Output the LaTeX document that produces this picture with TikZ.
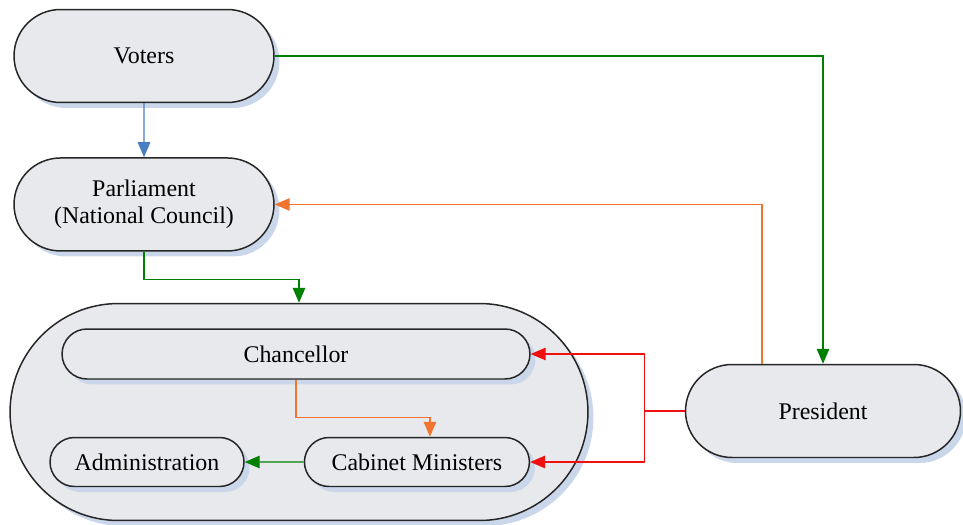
\documentclass[tikz,border=0pt]{standalone}
\usepackage{fontspec}
\setmainfont{Liberation Serif}
\usetikzlibrary{positioning}
\usetikzlibrary{calc}
\usetikzlibrary{arrows.meta}
\usetikzlibrary{shapes.misc}
\usetikzlibrary{shadows}
\definecolor{boxfill}{HTML}{E8E9EC}
\definecolor{shadowblue}{HTML}{CAD6EA}
\definecolor{cblue}{HTML}{4A7EC4}
\definecolor{cgreen}{HTML}{008000}
\definecolor{corange}{HTML}{F27431}
\definecolor{cred}{HTML}{F01010}
\tikzset{
b/.style={
  rounded rectangle,
  inner sep=0pt,
  align=center,
  draw=black!85,
  line width=0.85pt,
  fill=boxfill,
  font=\fontsize{13.6}{15.5}\selectfont,
  drop shadow={shadow xshift=0.11cm,shadow yshift=-0.11cm,fill=shadowblue,opacity=1}
  }
}
\begin{document}
\begin{tikzpicture}[x=0.02cm,y=-0.02cm,>={Triangle[length=0.3cm,width=0.25cm]},line width=0.8pt]
            \useasboundingbox (0,0) rectangle (963,524);
            \node[b,minimum width=5.2cm,minimum height=1.86cm]   (voters) at (144,56) {Voters};
            \node[b,minimum width=5.2cm,minimum height=1.86cm]   (parl)   [below=1.08cm of voters] {Parliament\\(National Council)};
            \node[b,minimum width=11.56cm,minimum height=4.34cm] (gov)    at (299,412) {};
            \node[b,minimum width=9.36cm,minimum height=1cm]     (chan)   at (296,354) {Chancellor};
            \node[b,minimum width=3.88cm,minimum height=0.98cm]  (admin)  at (147,462) {Administration};
            \node[b,minimum width=4.5cm,minimum height=0.98cm]   (cab)    [right=1.18cm of admin] {Cabinet Ministers};
            \node[b,minimum width=5.5cm,minimum height=1.86cm]   (pres)   at (823,411) {President};
            \coordinate (fork) at ($(pres.west)+(-40,0)$);
            \draw[->,cblue] (voters) -- (parl);
            \draw[->,cgreen] (voters.east) -| (pres.north);
            \draw[->,cgreen] (parl.south) -- ++(0,28) -| (gov.north);
            \draw[->,corange] ($(pres.north)+(-61,0)$) |- (parl.east);
            \draw[->,corange] (chan.south) -- ++(0,38) -| ($(cab.north)+(13,0)$);
            \draw[->,cgreen] (cab) -- (admin);
            \draw[cred] (pres.west) -- (fork);
            \draw[->,cred] (fork) |- (chan.east);
            \draw[->,cred] (fork) |- (cab.east);
        \end{tikzpicture}
\end{document}
